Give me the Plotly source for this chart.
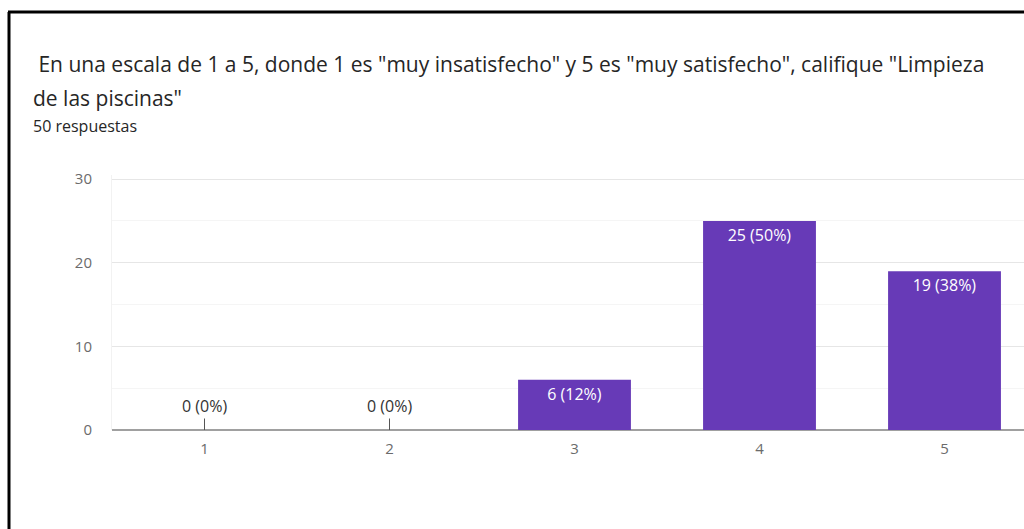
import plotly.graph_objects as go

# Survey responses per rating
ratings = ["1", "2", "3", "4", "5"]
counts = [0, 0, 6, 25, 19]
total_responses = 50

question_line1 = ' En una escala de 1 a 5, donde 1 es "muy insatisfecho" y 5 es "muy satisfecho", califique "Limpieza'
question_line2 = 'de las piscinas"'
subtitle = f"{total_responses} respuestas"

W, H = 1024, 529
M_L, M_R, M_T, M_B = 112, 0, 175, 99
PLOT_W = W - M_L - M_R
PLOT_H = H - M_T - M_B

BAR_COLOR = "#673AB7"
TEXT_DARK = "#262626"
TICK_GRAY = "#6b6b6b"
FONT = "Open Sans, Roboto, Arial, sans-serif"


def px_x(px):
    """Pixel x -> paper coordinate."""
    return (px - M_L) / PLOT_W


def px_y(py):
    """Pixel y (from top) -> paper coordinate."""
    return (H - M_B - py) / PLOT_H


labels = [f"{c} ({round(100 * c / total_responses)}%)" for c in counts]
xs = [int(r) for r in ratings]

fig = go.Figure()
fig.add_trace(
    go.Bar(
        x=xs,
        y=counts,
        width=0.61,
        marker=dict(color=BAR_COLOR, line=dict(width=0)),
        text=[lab if c > 0 else "" for lab, c in zip(labels, counts)],
        textposition="inside",
        insidetextanchor="end",
        textfont=dict(color="white", size=16, family=FONT),
        hoverinfo="skip",
    )
)

# Zero-count categories get a label on a short stem
for x, c, lab in zip(xs, counts, labels):
    if c == 0:
        fig.add_annotation(
            x=x, y=c, xref="x", yref="y",
            text=lab, showarrow=True, arrowhead=0, arrowwidth=1,
            arrowcolor="#555555", ax=0, ay=-24,
            font=dict(size=16, color="#333333", family=FONT),
        )

# Question heading and response count
fig.add_annotation(
    x=px_x(31), y=px_y(64), xref="paper", yref="paper",
    xanchor="left", yanchor="middle", showarrow=False,
    text=question_line1,
    font=dict(size=21, color=TEXT_DARK, family=FONT),
)
fig.add_annotation(
    x=px_x(31), y=px_y(98), xref="paper", yref="paper",
    xanchor="left", yanchor="middle", showarrow=False,
    text=question_line2,
    font=dict(size=21, color=TEXT_DARK, family=FONT),
)
fig.add_annotation(
    x=px_x(31), y=px_y(126), xref="paper", yref="paper",
    xanchor="left", yanchor="middle", showarrow=False,
    text=subtitle,
    font=dict(size=16, color=TEXT_DARK, family=FONT),
)

# Card frame: left and top edges
fig.add_shape(type="line", xref="paper", yref="paper",
              x0=px_x(9), x1=px_x(9), y0=px_y(12), y1=px_y(H + 5),
              line=dict(color="black", width=3))
fig.add_shape(type="line", xref="paper", yref="paper",
              x0=px_x(8), x1=px_x(W + 5), y0=px_y(12), y1=px_y(12),
              line=dict(color="black", width=3))

fig.update_layout(
    width=W, height=H,
    margin=dict(l=M_L, r=M_R, t=M_T, b=M_B, pad=0),
    paper_bgcolor="white", plot_bgcolor="white",
    showlegend=False,
    bargap=0.39,
    xaxis=dict(
        range=[0.5, 0.5 + PLOT_W / 185.0],
        tickmode="array", tickvals=xs, ticktext=ratings,
        showgrid=False, zeroline=False, showline=False,
        ticks="", ticklabelstandoff=8,
        tickfont=dict(size=15, color=TICK_GRAY, family=FONT),
        fixedrange=True,
    ),
    yaxis=dict(
        range=[0, 30.5],
        tickvals=[0, 10, 20, 30],
        showgrid=True, gridcolor="#e6e6e6", gridwidth=1,
        minor=dict(tickvals=[5, 15, 25], showgrid=True, gridcolor="#f5f5f5", gridwidth=1),
        zeroline=True, zerolinecolor="#a0a0a0", zerolinewidth=2,
        showline=True, linecolor="#f2f2f2", linewidth=1,
        ticks="", ticklabelstandoff=16,
        tickfont=dict(size=15, color=TICK_GRAY, family=FONT),
        fixedrange=True,
    ),
)

fig.write_html("out.html", config={"displayModeBar": False})
